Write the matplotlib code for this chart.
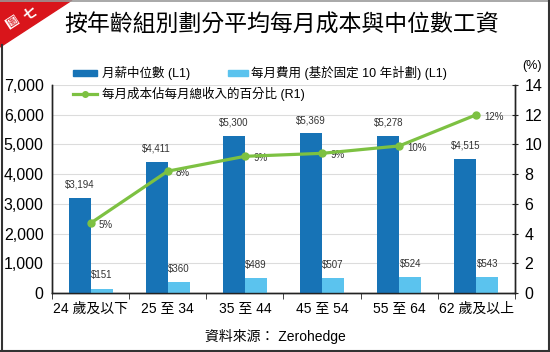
import matplotlib
matplotlib.use("Agg")
import matplotlib.pyplot as plt
from matplotlib.patches import Polygon, Rectangle
from matplotlib.lines import Line2D
from matplotlib import font_manager
import numpy as np

plt.rcParams['font.family'] = ['Liberation Sans', 'Noto Sans CJK TC', 'DejaVu Sans']

categories = ["24 歲及以下", "25 至 34", "35 至 44", "45 至 54", "55 至 64", "62 歲及以上"]
median_salary = [3194, 4411, 5300, 5369, 5278, 4515]
monthly_cost = [151, 360, 489, 507, 524, 543]
cost_pct = [4.7, 8.2, 9.2, 9.4, 9.9, 12.0]
pct_labels = ["5%", "8%", "9%", "9%", "10%", "12%"]

title = "按年齡組別劃分平均每月成本與中位數工資"
legend_labels = ["月薪中位數 (L1)", "每月費用 (基於固定 10 年計劃) (L1)", "每月成本佔每月總收入的百分比 (R1)"]
source = "資料來源： Zerohedge"

names = {f.name for f in font_manager.fontManager.ttflist}
small_font = ['Liberation Sans Narrow', 'DejaVu Sans'] if 'Liberation Sans Narrow' in names else ['Liberation Sans', 'DejaVu Sans']

DARK = '#1773B6'
LIGHT = '#5BC3EE'
GREEN = '#7DC142'

W, H = 550, 352
fig = plt.figure(figsize=(W / 100, H / 100), dpi=100)
fig.patch.set_facecolor('white')

ax = fig.add_axes([52 / W, 1 - 293 / H, (515 - 52) / W, (293 - 85) / H])
ax2 = ax.twinx()

x = np.arange(len(categories))
w = 0.285
b1 = ax.bar(x - w / 2, median_salary, w, color=DARK, zorder=3)
b2 = ax.bar(x + w / 2, monthly_cost, w, color=LIGHT, zorder=3)

for rect, v in zip(b1, median_salary):
    ax.annotate(f"${v:,}", (rect.get_x() + rect.get_width() / 2, v), xytext=(0, 6),
                textcoords='offset points', ha='center', va='bottom', fontsize=7,
                color='#333333', family=small_font)
for rect, v in zip(b2, monthly_cost):
    ax.annotate(f"${v:,}", (rect.get_x() + rect.get_width() / 2, v), xytext=(0, 6),
                textcoords='offset points', ha='center', va='bottom', fontsize=7,
                color='#333333', family=small_font)

ax2.plot(x, cost_pct, color=GREEN, lw=2.3, marker='o', ms=5, zorder=5)
for xi, v, lab in zip(x, cost_pct, pct_labels):
    ax2.annotate(lab, (xi, v), xytext=(6, -1.5), textcoords='offset points',
                 ha='left', va='center', fontsize=7, color='#333333', family=small_font)

ax.set_xlim(-0.5, 5.5)
ax.set_ylim(0, 7000)
ax2.set_ylim(0, 14)
ax.set_yticks(range(0, 7001, 1000))
ax.set_yticklabels([f"{v:,}" for v in range(0, 7001, 1000)])
ax2.set_yticks(range(0, 15, 2))
ax.grid(axis='y', color='#dcdcdc', lw=0.8, zorder=0)
ax.set_axisbelow(True)

ax.set_xticks(x)
ax.set_xticklabels(categories, fontsize=10)
ax.set_xticks(np.arange(-0.5, 6, 1), minor=True)
ax.tick_params(axis='x', which='major', length=0, pad=6)
ax.tick_params(axis='x', which='minor', length=4, direction='out', color='#222222')
ax.tick_params(axis='y', length=0, labelsize=11.5, pad=6)
ax2.tick_params(axis='y', length=4, direction='inout', labelsize=11.5, pad=5, color='#222222')

for a in (ax, ax2):
    a.spines['top'].set_visible(False)
    for s in ('left', 'right', 'bottom'):
        a.spines[s].set_color('#222222')
        a.spines[s].set_linewidth(1.0)

# legend (manual placement)
fig.patches.append(Rectangle((73 / W, 1 - 76 / H), 24 / W, 6 / H, transform=fig.transFigure,
                             color=DARK, figure=fig))
fig.text(102 / W, 1 - 73 / H, legend_labels[0], fontsize=9, va='center', ha='left')
fig.patches.append(Rectangle((228 / W, 1 - 76 / H), 20 / W, 6 / H, transform=fig.transFigure,
                             color=LIGHT, figure=fig))
fig.text(251 / W, 1 - 73 / H, legend_labels[1], fontsize=9, va='center', ha='left')
fig.lines.append(Line2D([73 / W, 97 / W], [1 - 94 / H] * 2, transform=fig.transFigure,
                        color=GREEN, lw=2.3, figure=fig))
fig.lines.append(Line2D([85 / W], [1 - 94 / H], transform=fig.transFigure,
                        color=GREEN, marker='o', ms=4, figure=fig))
fig.text(102 / W, 1 - 94 / H, legend_labels[2], fontsize=9, va='center', ha='left')

fig.text(532 / W, 1 - 66 / H, "(%)", fontsize=9, ha='center', va='center')

# title
fig.text(282 / W, 1 - 25 / H, title, fontsize=16.5, ha='center', va='center', color='#000000')

# source
fig.text(275 / W, 1 - 336 / H, source, fontsize=10, ha='center', va='center')

# frame
fig.lines.append(Line2D([0, 1], [1 - 1 / H] * 2, transform=fig.transFigure, color='#999999', lw=1.2, figure=fig))
fig.lines.append(Line2D([1.5 / W] * 2, [1 - 45 / H, 0], transform=fig.transFigure, color='#333333', lw=1.5, figure=fig))
fig.lines.append(Line2D([0, 1], [1.5 / H] * 2, transform=fig.transFigure, color='#333333', lw=1.5, figure=fig))
fig.lines.append(Line2D([1 - 1.5 / W] * 2, [0, 1], transform=fig.transFigure, color='#333333', lw=1.5, figure=fig))

# red corner
fig.patches.append(Polygon([(0, 1), (72 / W, 1), (0, 1 - 47 / H)], closed=True,
                           transform=fig.transFigure, color='#D9151B', figure=fig))
fig.text(12 / W, 1 - 22 / H, "圖", fontsize=7.5, color='#D9151B', rotation=33,
         ha='center', va='center', family=['Noto Sans CJK TC'],
         bbox=dict(boxstyle='square,pad=0.05', fc='white', ec='none'))
fig.text(30 / W, 1 - 13 / H, "七", fontsize=10, color='white', rotation=33,
         ha='center', va='center', family=['Noto Sans CJK TC'], fontweight='bold')

fig.savefig('out.png', dpi=100)
